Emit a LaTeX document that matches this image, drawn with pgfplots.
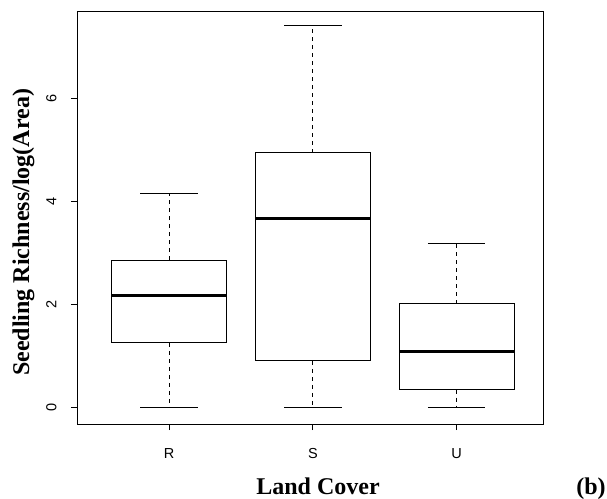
\documentclass[border=0pt]{standalone}
\usepackage{fontspec}
\setmainfont{Liberation Serif}
\setsansfont{Liberation Sans}
\usepackage{pgfplots}
\pgfplotsset{compat=1.18}
\usepgfplotslibrary{statistics}
\pgfplotsset{
  rbox/.style={
    boxplot prepared={
      draw direction=y,
      box extend=0.8,
      whisker extend=0.4,
      every box/.style={line width=0.8pt},
      every median/.style={line width=3pt, line cap=butt},
      draw/lower whisker/.code={%
        \draw[line width=0.8pt, dash pattern=on 4pt off 4pt]
          (boxplot box cs:\pgfplotsboxplotvalue{lower quartile},0.5) --
          (boxplot box cs:\pgfplotsboxplotvalue{lower whisker},0.5);
        \draw[line width=0.8pt]
          (boxplot whisker cs:\pgfplotsboxplotvalue{lower whisker},0) --
          (boxplot whisker cs:\pgfplotsboxplotvalue{lower whisker},1);
      },
      draw/upper whisker/.code={%
        \draw[line width=0.8pt, dash pattern=on 4pt off 4pt]
          (boxplot box cs:\pgfplotsboxplotvalue{upper quartile},0.5) --
          (boxplot box cs:\pgfplotsboxplotvalue{upper whisker},0.5);
        \draw[line width=0.8pt]
          (boxplot whisker cs:\pgfplotsboxplotvalue{upper whisker},0) --
          (boxplot whisker cs:\pgfplotsboxplotvalue{upper whisker},1);
      },
      #1
    }
  }
}
\begin{document}
\begin{tikzpicture}
\begin{axis}[
  width=466pt, height=413pt, scale only axis,
  xmin=0.36, xmax=3.6, ymin=-0.33, ymax=7.71,
  axis line style={line width=0.8pt},
  tick pos=left, tick align=outside,
  major tick length=6pt,
  tick style={black, line width=0.8pt},
  xtick={1,2,3}, xticklabels={R,S,U},
  ytick={0,2,4,6},
  /pgf/number format/assume math mode=true,
  ticklabel style={font=\sffamily\fontsize{14.5}{17}\selectfont},
  xticklabel style={anchor=base, yshift=-28pt},
  yticklabel style={rotate=90, anchor=base},
  yticklabel shift=14.5pt,
  xlabel={Land Cover},
  ylabel={Seedling Richness/log(Area)},
  xlabel style={at={(axis description cs:0.5,0)}, anchor=base, yshift=-70pt, xshift=8pt,
    font=\bfseries\fontsize{24}{28}\selectfont},
  ylabel style={at={(axis description cs:-0.103,0.464)}, anchor=base, rotate=0,
    font=\bfseries\fontsize{24}{28}\selectfont},
]
\addplot[black, solid, rbox={draw position=1,
  lower whisker=0, lower quartile=1.25, median=2.18,
  upper quartile=2.86, upper whisker=4.15}] coordinates {};
\addplot[black, solid, rbox={draw position=2,
  lower whisker=0, lower quartile=0.90, median=3.68,
  upper quartile=4.95, upper whisker=7.42}] coordinates {};
\addplot[black, solid, rbox={draw position=3,
  lower whisker=0, lower quartile=0.34, median=1.09,
  upper quartile=2.01, upper whisker=3.19}] coordinates {};
\end{axis}
\node[font=\bfseries\fontsize{24}{28}\selectfont, anchor=base]
  at ([shift={(48pt,-70pt)}]current axis.south east) {(b)};
\pgfresetboundingbox
\path ([shift={(-77pt,-74pt)}]current axis.south west) rectangle
  ([shift={(64pt,11pt)}]current axis.north east);
\end{tikzpicture}
\end{document}
